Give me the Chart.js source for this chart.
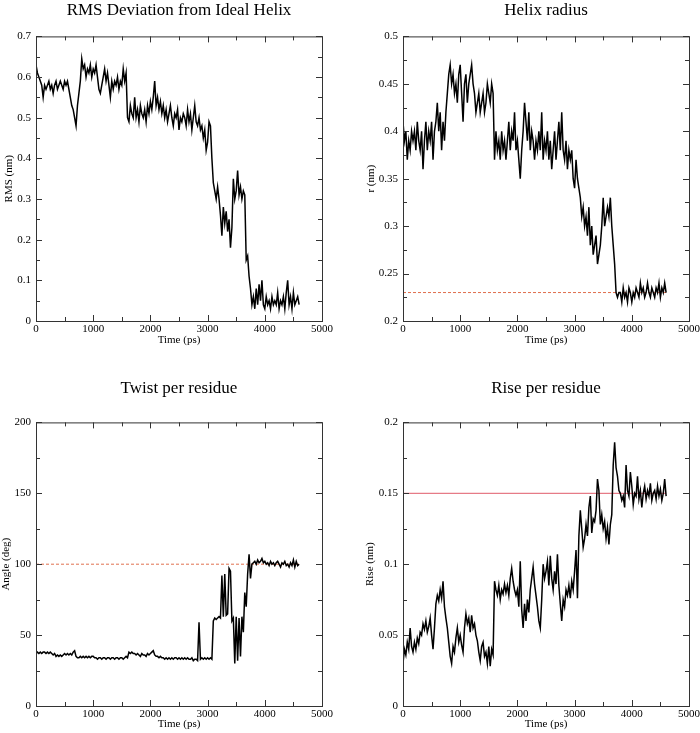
<!DOCTYPE html>
<html>
<head>
<meta charset="utf-8">
<script src="https://cdn.jsdelivr.net/npm/chart.js@4.4.0/dist/chart.umd.min.js"></script>
<style>
  body { margin: 0; background: #fff; overflow: hidden; width: 700px; height: 733px; position: relative; }
  canvas { position: absolute; }
</style>
</head>
<body>
<canvas id="rmsChart" width="350" height="365" style="left:0;top:0"></canvas>
<canvas id="radiusChart" width="350" height="365" style="left:350px;top:0"></canvas>
<canvas id="twistChart" width="350" height="365" style="left:0;top:368px"></canvas>
<canvas id="riseChart" width="350" height="365" style="left:350px;top:368px"></canvas>
<script>
// sampling of the trajectory (ps)
const TIME_STEP = 25;
const X_TICKS = [0, 1000, 2000, 3000, 4000, 5000];

// RMS deviation from ideal helix (nm), one value every 25 ps, 0..4600
const rms = [
  0.63, 0.61, 0.60, 0.59, 0.58, 0.55, 0.58, 0.57,
  0.58, 0.59, 0.57, 0.58, 0.56, 0.58, 0.59, 0.57,
  0.58, 0.59, 0.58, 0.57, 0.59, 0.58, 0.59, 0.57,
  0.55, 0.53, 0.52, 0.50, 0.48, 0.53, 0.56, 0.59,
  0.645, 0.62, 0.63, 0.60, 0.62, 0.61, 0.63, 0.60,
  0.62, 0.61, 0.63, 0.60, 0.57, 0.56, 0.58, 0.60,
  0.62, 0.59, 0.61, 0.58, 0.55, 0.59, 0.57, 0.59,
  0.58, 0.60, 0.57, 0.59, 0.58, 0.62, 0.59, 0.61,
  0.50, 0.49, 0.53, 0.51, 0.50, 0.55, 0.50, 0.52,
  0.49, 0.53, 0.51, 0.50, 0.52, 0.49, 0.53, 0.51,
  0.54, 0.52, 0.55, 0.59, 0.53, 0.55, 0.52, 0.54,
  0.51, 0.53, 0.50, 0.52, 0.49, 0.51, 0.53, 0.50,
  0.48, 0.51, 0.50, 0.52, 0.47, 0.50, 0.49, 0.51,
  0.50, 0.48, 0.52, 0.49, 0.51, 0.47, 0.50, 0.53,
  0.49, 0.48, 0.50, 0.47, 0.48, 0.45, 0.47, 0.42,
  0.44, 0.49, 0.48, 0.40, 0.34, 0.32, 0.30, 0.33,
  0.30, 0.26, 0.21, 0.28, 0.24, 0.27, 0.22, 0.25,
  0.18, 0.23, 0.35, 0.30, 0.32, 0.37, 0.31, 0.33,
  0.30, 0.32, 0.31, 0.15, 0.16, 0.11, 0.08, 0.04,
  0.06, 0.03, 0.08, 0.04, 0.09, 0.05, 0.10, 0.04,
  0.03, 0.06, 0.04, 0.05, 0.03, 0.06, 0.04, 0.05,
  0.04, 0.07, 0.03, 0.05, 0.04, 0.06, 0.03, 0.07,
  0.10, 0.04, 0.06, 0.03, 0.07, 0.04, 0.05, 0.06,
  0.04
];

// helix radius (nm)
const radius = [
  0.41, 0.39, 0.40, 0.37, 0.39, 0.38, 0.40, 0.39,
  0.40, 0.38, 0.41, 0.39, 0.38, 0.40, 0.36, 0.39,
  0.41, 0.38, 0.40, 0.39, 0.41, 0.37, 0.40, 0.41,
  0.43, 0.40, 0.42, 0.38, 0.41, 0.39, 0.42, 0.44,
  0.46, 0.47, 0.45, 0.46, 0.44, 0.45, 0.43, 0.46,
  0.47, 0.44, 0.41, 0.45, 0.46, 0.43, 0.45, 0.46,
  0.47, 0.45, 0.44, 0.42, 0.43, 0.44, 0.42, 0.43,
  0.44, 0.42, 0.43, 0.45, 0.44, 0.43, 0.45, 0.44,
  0.37, 0.40, 0.38, 0.39, 0.37, 0.40, 0.38, 0.39,
  0.37, 0.39, 0.41, 0.38, 0.40, 0.39, 0.42, 0.38,
  0.39, 0.37, 0.35, 0.38, 0.40, 0.43, 0.41, 0.39,
  0.42, 0.38, 0.40, 0.39, 0.37, 0.39, 0.38, 0.40,
  0.38, 0.42, 0.37, 0.39, 0.38, 0.40, 0.37, 0.39,
  0.36, 0.38, 0.40, 0.37, 0.39, 0.41, 0.38, 0.42,
  0.38, 0.37, 0.39, 0.36, 0.38, 0.37, 0.38, 0.35,
  0.34, 0.37, 0.35, 0.34, 0.33, 0.31, 0.32, 0.30,
  0.31, 0.29, 0.32, 0.28, 0.30, 0.27, 0.28, 0.29,
  0.26, 0.27, 0.28, 0.30, 0.33, 0.30, 0.31, 0.32,
  0.31, 0.33, 0.30, 0.28, 0.26, 0.23, 0.225, 0.23,
  0.23, 0.22, 0.235, 0.225, 0.23, 0.22, 0.235, 0.23,
  0.22, 0.23, 0.225, 0.235, 0.23, 0.225, 0.24, 0.23,
  0.235, 0.225, 0.23, 0.24, 0.23, 0.225, 0.235, 0.23,
  0.225, 0.235, 0.23, 0.24, 0.225, 0.235, 0.23, 0.24,
  0.23
];

// twist per residue (deg)
const twist = [
  37, 38, 37, 38, 37, 38, 38, 37,
  38, 37, 38, 37, 36, 37, 35, 36,
  35, 36, 35, 36, 37, 36, 37, 36,
  37, 36, 38, 39, 35, 34, 34, 35,
  34, 35, 34, 35, 34, 35, 34, 35,
  35, 34, 34, 33, 34, 34, 33, 34,
  34, 33, 34, 34, 33, 34, 34, 33,
  34, 34, 33, 34, 34, 33, 34, 35,
  34, 38, 37, 38, 37, 37, 36, 37,
  36, 35, 37, 36, 36, 35, 37, 36,
  37, 38, 39, 36, 35, 35, 34, 35,
  34, 34, 33, 34, 33, 34, 33, 34,
  33, 34, 34, 33, 34, 33, 34, 33,
  34, 33, 34, 33, 33, 34, 32, 33,
  33, 32, 59, 33, 34, 33, 34, 33,
  34, 33, 34, 33, 60, 62, 61, 62,
  63, 62, 92, 63, 93, 64, 65, 97,
  95, 60, 62, 30, 63, 32, 62, 35,
  63, 52, 80, 70, 93, 107, 90, 100,
  101, 102, 100, 103, 101, 102, 104, 101,
  102, 100, 101, 99, 102, 100, 101, 99,
  101, 102, 100, 98, 101, 100, 102, 99,
  100, 98, 101, 99, 103, 98, 102, 99,
  100
];

// rise per residue (nm)
const rise = [
  0.030, 0.040, 0.036, 0.045, 0.040, 0.055, 0.042, 0.038,
  0.045, 0.040, 0.048, 0.044, 0.052, 0.050, 0.058, 0.054,
  0.060, 0.052, 0.056, 0.062, 0.050, 0.040, 0.055, 0.072,
  0.078, 0.074, 0.082, 0.076, 0.088, 0.070, 0.062, 0.055,
  0.045, 0.035, 0.030, 0.042, 0.038, 0.048, 0.055, 0.045,
  0.050, 0.043, 0.038, 0.055, 0.065, 0.058, 0.062, 0.052,
  0.064, 0.055, 0.058, 0.050, 0.046, 0.038, 0.032, 0.042,
  0.045, 0.035, 0.038, 0.030, 0.042, 0.028, 0.040, 0.036,
  0.088, 0.082, 0.078, 0.085, 0.075, 0.082, 0.079, 0.086,
  0.080, 0.085, 0.078, 0.090, 0.097, 0.088, 0.082, 0.078,
  0.082, 0.070, 0.102, 0.068, 0.055, 0.072, 0.060, 0.075,
  0.066, 0.082, 0.090, 0.098, 0.086, 0.078, 0.070, 0.060,
  0.055, 0.075, 0.100, 0.090, 0.095, 0.102, 0.085, 0.106,
  0.090, 0.082, 0.095, 0.086, 0.107, 0.085, 0.072, 0.060,
  0.075, 0.070, 0.082, 0.078, 0.085, 0.076, 0.088, 0.082,
  0.095, 0.110, 0.076, 0.120, 0.138, 0.125, 0.112, 0.118,
  0.128, 0.120, 0.140, 0.148, 0.122, 0.132, 0.130, 0.138,
  0.160, 0.152, 0.128, 0.135, 0.125, 0.130, 0.118, 0.126,
  0.114, 0.128, 0.135, 0.170, 0.186, 0.168, 0.162, 0.152,
  0.150, 0.145, 0.148, 0.140, 0.170, 0.152, 0.148, 0.165,
  0.155, 0.142, 0.150, 0.148, 0.162, 0.146, 0.152, 0.140,
  0.150, 0.155, 0.146, 0.152, 0.148, 0.157, 0.145, 0.150,
  0.152, 0.146, 0.155, 0.148, 0.153, 0.145, 0.150, 0.160,
  0.148
];

// reference (ideal helix) values
const REF_RADIUS = 0.23;
const REF_TWIST = 100;
const REF_RISE = 0.15;
const REF_SPAN = [0, 4600];

const FONT = "'Liberation Serif', 'DejaVu Serif', serif";

// box + inward major/minor ticks on all four sides
const frameTicks = {
  id: "frameTicks",
  afterDraw(chart) {
    const { ctx, chartArea: a, scales: { x, y } } = chart;
    const yStep = chart.options.scales.y.ticks.stepSize;
    const yMin = chart.options.scales.y.min, yMax = chart.options.scales.y.max;
    ctx.save();
    ctx.strokeStyle = "#333";
    ctx.lineWidth = 1;
    ctx.strokeRect(a.left + 0.5, a.top + 0.5, a.right - a.left, a.bottom - a.top);
    ctx.beginPath();
    for (let i = 0; i <= 10; i++) {
      const px = Math.round(x.getPixelForValue(i * 500)) + 0.5;
      const len = i % 2 === 0 ? 6 : 4;
      ctx.moveTo(px, a.bottom); ctx.lineTo(px, a.bottom - len);
      ctx.moveTo(px, a.top); ctx.lineTo(px, a.top + len);
    }
    const n = Math.round((yMax - yMin) / yStep) * 2;
    for (let i = 0; i <= n; i++) {
      const py = Math.round(y.getPixelForValue(yMin + i * yStep / 2)) + 0.5;
      const len = i % 2 === 0 ? 6 : 4;
      ctx.moveTo(a.left, py); ctx.lineTo(a.left + len, py);
      ctx.moveTo(a.right, py); ctx.lineTo(a.right - len, py);
    }
    ctx.stroke();
    ctx.restore();
  }
};

function fmt(v) {
  return String(Number(v.toFixed(3)));
}

function makePanel(id, p) {
  const time = p.values.map((_, i) => i * TIME_STEP);
  const datasets = [{
    data: p.values.map((v, i) => ({ x: time[i], y: v })),
    borderColor: "#000",
    borderWidth: 1.5,
    pointRadius: 0,
    tension: 0
  }];
  if (p.ref !== undefined) {
    datasets.push({
      data: REF_SPAN.map(t => ({ x: t, y: p.ref })),
      borderColor: p.refColor,
      borderWidth: 1,
      borderDash: p.refDash,
      pointRadius: 0
    });
  }
  new Chart(document.getElementById(id), {
    type: "line",
    data: { datasets },
    options: {
      responsive: false,
      animation: false,
      devicePixelRatio: 1,
      layout: { padding: { left: p.padLeft, right: p.padRight, top: 0, bottom: p.padBottom } },
      plugins: {
        legend: { display: false },
        tooltip: { enabled: false },
        title: {
          display: true,
          text: p.title,
          fullSize: false,
          color: "#000",
          font: { family: FONT, size: 17, weight: "normal" },
          padding: p.titlePad
        }
      },
      scales: {
        x: {
          type: "linear",
          min: 0,
          max: 5000,
          afterBuildTicks: s => { s.ticks = X_TICKS.map(v => ({ value: v })); },
          afterFit: s => { s.height = p.xHeight; s.paddingLeft = 0; s.paddingRight = 0; },
          grid: { display: false, drawTicks: false },
          border: { display: false },
          ticks: { color: "#000", font: { family: FONT, size: 11 }, padding: 2, maxRotation: 0, callback: v => fmt(v) },
          title: { display: true, text: "Time (ps)", color: "#000", font: { family: FONT, size: 11 }, padding: { top: 0, bottom: 2 } }
        },
        y: {
          min: p.yMin,
          max: p.yMax,
          afterFit: s => { s.width = p.yWidth; s.paddingTop = 0; s.paddingBottom = 0; },
          grid: { display: false, drawTicks: false },
          border: { display: false },
          ticks: { stepSize: p.yStep, color: "#000", font: { family: FONT, size: 11 }, padding: 5, callback: v => fmt(v) },
          title: { display: true, text: p.yLabel, color: "#000", font: { family: FONT, size: 11 }, padding: p.yTitlePad }
        }
      }
    },
    plugins: [frameTicks]
  });
}

makePanel("rmsChart", {
  title: "RMS Deviation from Ideal Helix", yLabel: "RMS (nm)",
  values: rms, yMin: 0, yMax: 0.7, yStep: 0.1,
  padLeft: 0, yWidth: 36, padRight: 28, padBottom: 16, xHeight: 28,
  titlePad: { top: 0, bottom: 16 }, yTitlePad: { top: 3, bottom: 0 }
});
makePanel("radiusChart", {
  title: "Helix radius", yLabel: "r (nm)",
  values: radius, yMin: 0.2, yMax: 0.5, yStep: 0.05,
  ref: REF_RADIUS, refColor: "#e0704f", refDash: [3, 2],
  padLeft: 12, yWidth: 41, padRight: 11, padBottom: 16, xHeight: 28,
  titlePad: { top: 0, bottom: 16 }, yTitlePad: { top: 3, bottom: 0 }
});
makePanel("twistChart", {
  title: "Twist per residue", yLabel: "Angle (deg)",
  values: twist, yMin: 0, yMax: 200, yStep: 50,
  ref: REF_TWIST, refColor: "#e0704f", refDash: [3, 2],
  padLeft: 0, yWidth: 36, padRight: 28, padBottom: 0, xHeight: 27,
  titlePad: { top: 10, bottom: 24 }, yTitlePad: { top: 0, bottom: 0 }
});
makePanel("riseChart", {
  title: "Rise per residue", yLabel: "Rise (nm)",
  values: rise, yMin: 0, yMax: 0.2, yStep: 0.05,
  ref: REF_RISE, refColor: "#e05a6a", refDash: [],
  padLeft: 12, yWidth: 41, padRight: 11, padBottom: 0, xHeight: 27,
  titlePad: { top: 10, bottom: 24 }, yTitlePad: { top: 2, bottom: 0 }
});
</script>
</body>
</html>
